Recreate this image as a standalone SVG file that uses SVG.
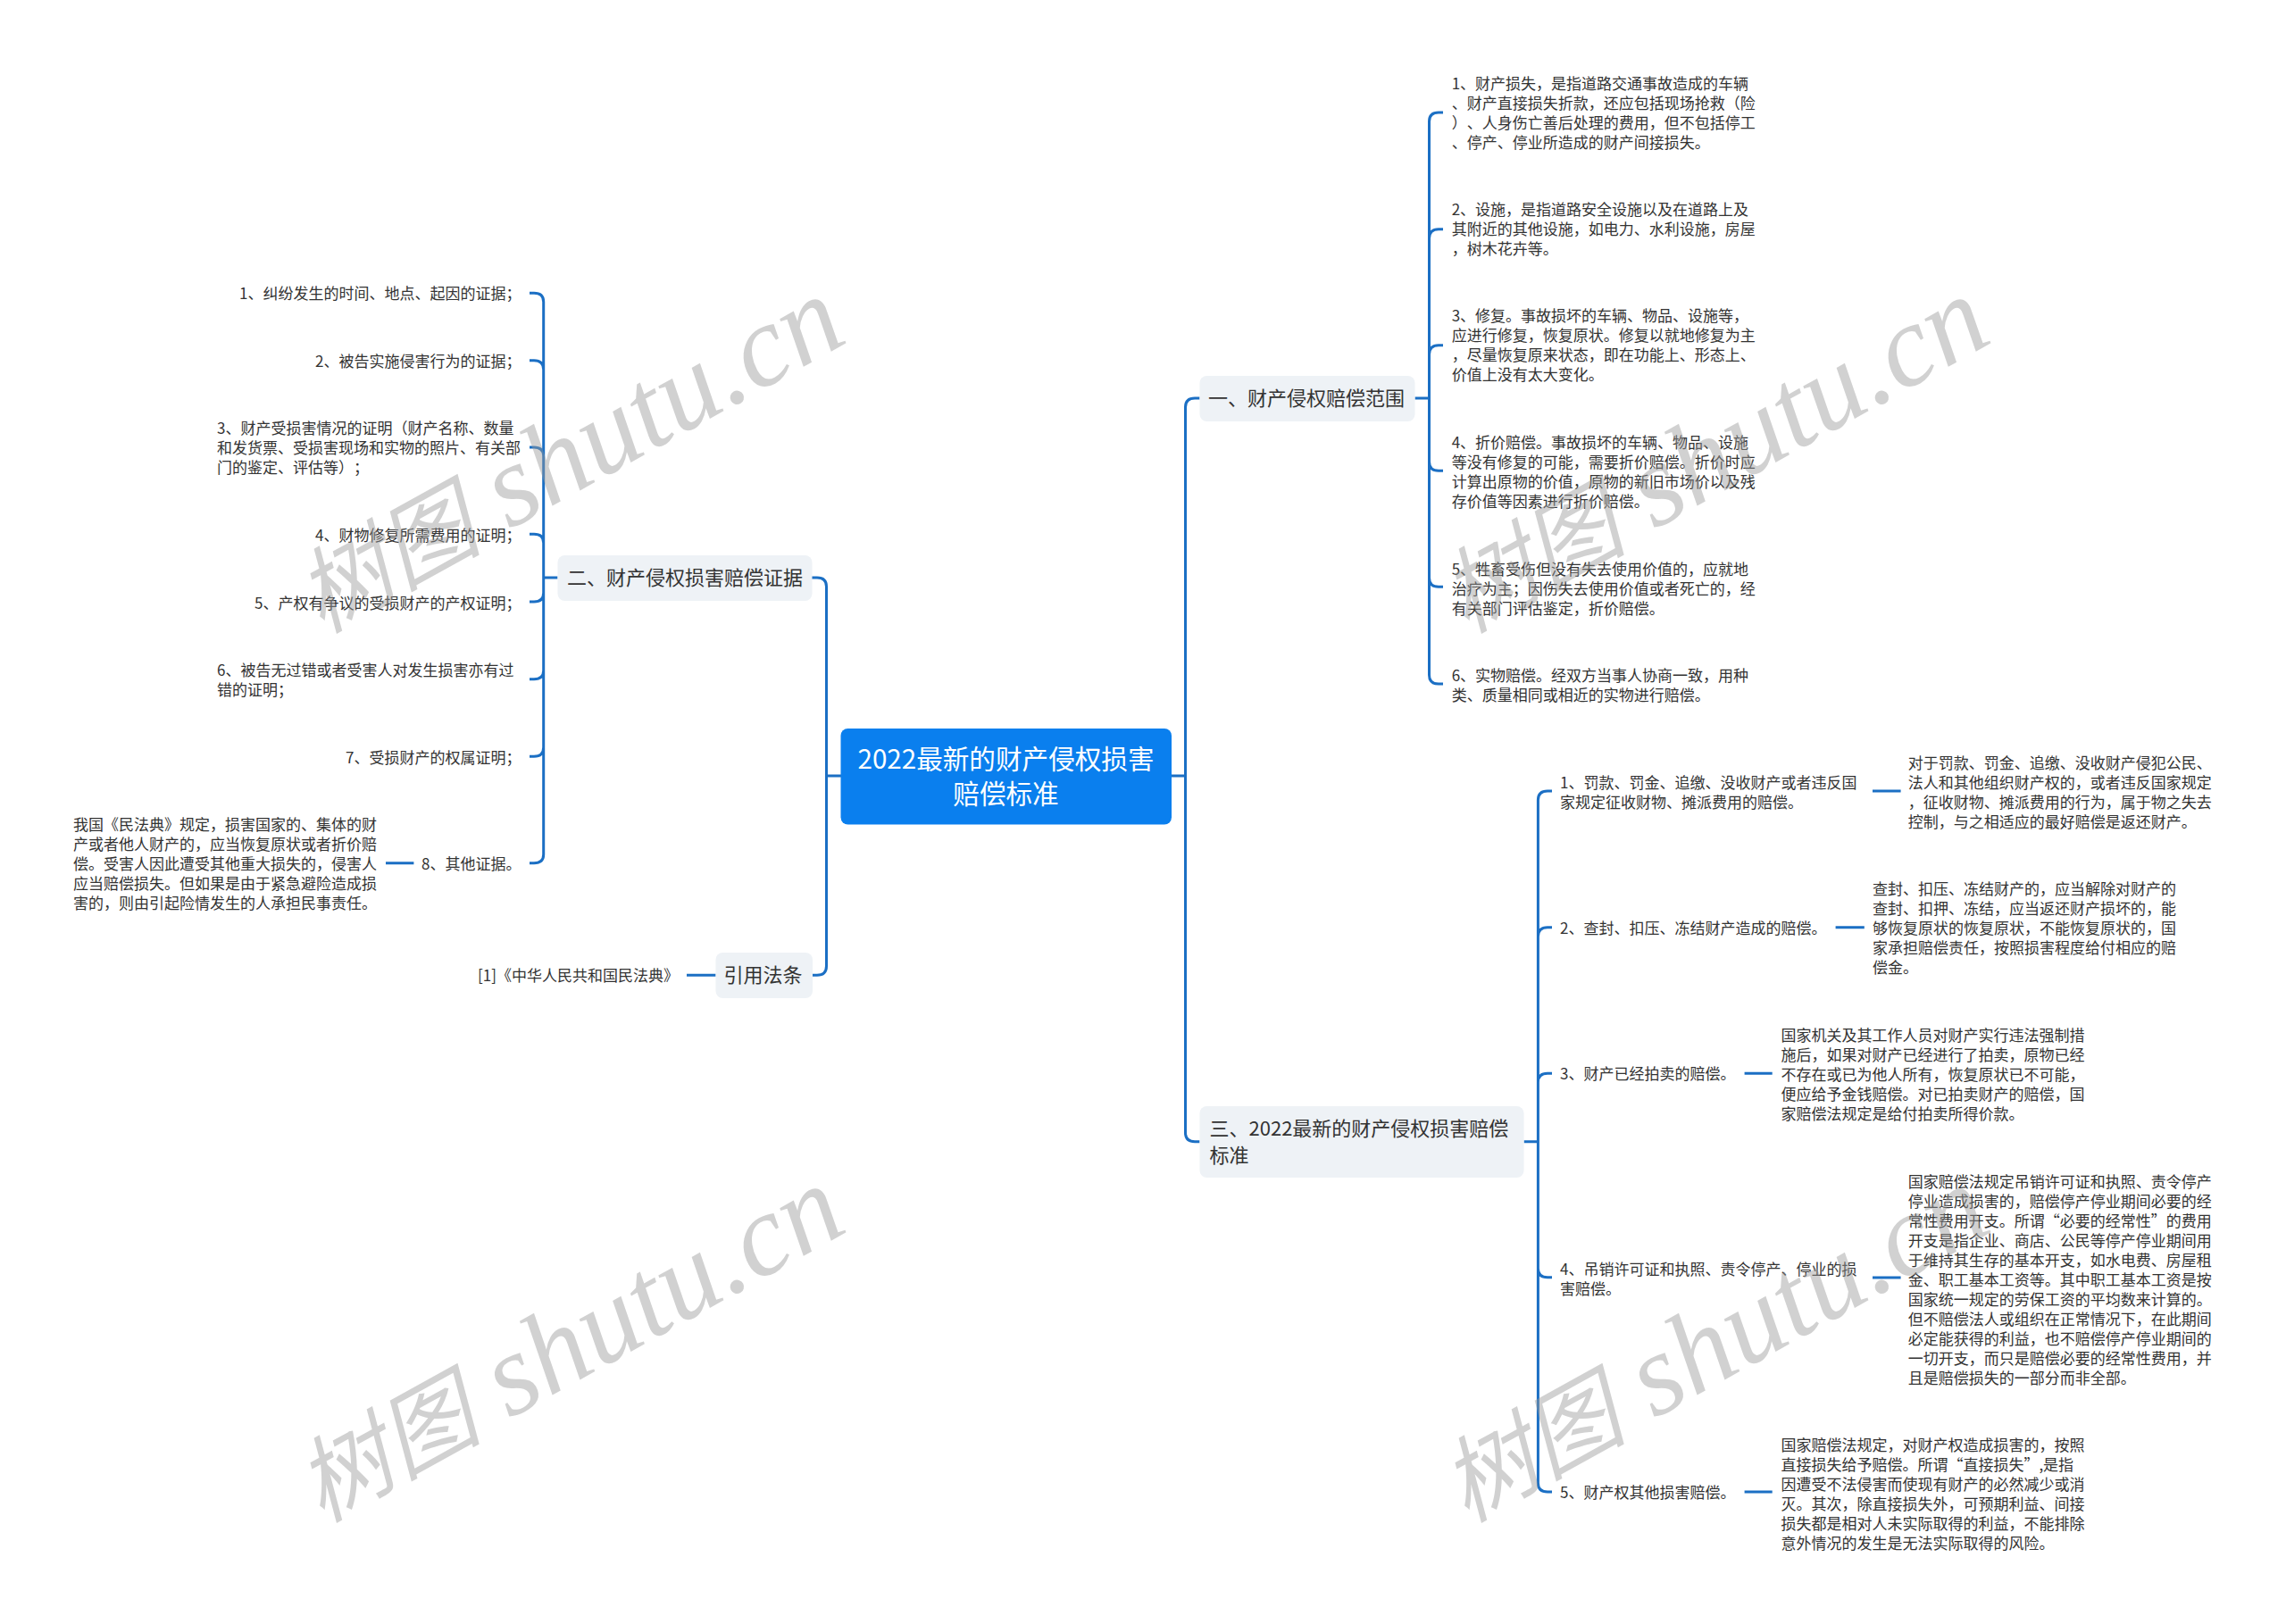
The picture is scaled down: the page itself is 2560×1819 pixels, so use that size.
<svg xmlns="http://www.w3.org/2000/svg" width="2560" height="1819" viewBox="0 0 2560 1819">
<defs>
<g id="wm"><text class="wm" x="0" y="0"><tspan class="wc">树图</tspan><tspan> shutu.cn</tspan></text></g>
</defs>
<style>
text{font-family:"Noto Sans CJK SC","Noto Sans",sans-serif;fill:#333;text-spacing-trim:space-all}
.s{font-size:17px}
.b{font-size:22px}
.r{font-size:29.600px;fill:#fff;text-anchor:middle}
.e{text-anchor:end}
.nb{fill:#eef2f6}
.c{fill:none;stroke:#1b6fc4;stroke-width:3;stroke-linecap:butt}
.wm{font-family:"Liberation Serif","Noto Sans CJK SC",serif;font-style:italic;font-size:130px;fill:#999;fill-opacity:.45}
.wc{font-size:104px}
</style>
<rect width="2560" height="1819" fill="#fff"/>
<g id="connectors">
<path class="c" d="M1312 869H1327.5M1343.5 446H1338Q1327.5 446 1327.5 456V1268.7Q1327.5 1278.7 1338 1278.7H1343.5"/>
<path class="c" d="M942 869H925.5M909 647H915Q925.5 647 925.5 657V1082Q925.5 1092.3 915 1092.3H910"/>
<path class="c" d="M1584.5 446H1600.5M1616 126H1611Q1600.5 126 1600.5 136V756Q1600.5 766 1611 766H1616M1616 256.7H1611Q1600.5 256.7 1600.5 267M1616 386.7H1611Q1600.5 386.7 1600.5 397M1616 527.3H1611Q1600.5 527.3 1600.5 517M1616 657.3H1611Q1600.5 657.3 1600.5 647"/>
<path class="c" d="M1706.6 1278.7H1722.4M1738 886H1733Q1722.4 886 1722.4 896V1661Q1722.4 1671 1733 1671H1738M1738 1038.7H1733Q1722.4 1038.7 1722.4 1049M1738 1202.3H1733Q1722.4 1202.3 1722.4 1212.3M1738 1430.7H1733Q1722.4 1430.7 1722.4 1420.7"/>
<path class="c" d="M2097 886H2128.6M2055.6 1038.7H2087.8M1953.6 1202.3H1984.7M2097 1431H2128.6M1953.6 1671H1984.7"/>
<path class="c" d="M624.5 647H608.7M593 328.3H598Q608.7 328.3 608.7 338V957Q608.7 966.7 598 966.7H593M593 403.7H598Q608.7 403.7 608.7 414M593 501H598Q608.7 501 608.7 511M593 598.3H598Q608.7 598.3 608.7 608M593 674H598Q608.7 674 608.7 664M593 760.7H598Q608.7 760.7 608.7 751M593 847.3H598Q608.7 847.3 608.7 837"/>
<path class="c" d="M432 966.7H463.4M769 1092.3H801.6"/>
</g>
<g id="root"><rect x="941.500" y="816" width="370.500" height="107.500" rx="8" fill="#0a7fee"/><text class="r" x="1126.500" y="861">2022最新的财产侵权损害</text><text class="r" x="1126.500" y="900">赔偿标准</text></g>
<g id="n1"><rect class="nb" x="1343.500" y="421" width="241" height="51" rx="8"/><text class="b" x="1353" y="454">一、财产侵权赔偿范围</text></g>
<g id="n2"><rect class="nb" x="624.500" y="622" width="285" height="51" rx="8"/><text class="b" x="635" y="655">二、财产侵权损害赔偿证据</text></g>
<g id="n3"><rect class="nb" x="1343.500" y="1239" width="363" height="80" rx="8"/><text class="b" x="1354.500" y="1272">三、2022最新的财产侵权损害赔偿</text><text class="b" x="1354.500" y="1302">标准</text></g>
<g id="n4"><rect class="nb" x="801.500" y="1067" width="108.500" height="51" rx="8"/><text class="b" x="810.500" y="1100">引用法条</text></g>
<g id="n1-items">
<text class="s" x="1625.700" y="100">1、财产损失，是指道路交通事故造成的车辆</text><text class="s" x="1625.700" y="122">、财产直接损失折款，还应包括现场抢救（险</text><text class="s" x="1625.700" y="144">）、人身伤亡善后处理的费用，但不包括停工</text><text class="s" x="1625.700" y="166">、停产、停业所造成的财产间接损失。</text>
<text class="s" x="1625.700" y="241">2、设施，是指道路安全设施以及在道路上及</text><text class="s" x="1625.700" y="263">其附近的其他设施，如电力、水利设施，房屋</text><text class="s" x="1625.700" y="285">，树木花卉等。</text>
<text class="s" x="1625.700" y="360">3、修复。事故损坏的车辆、物品、设施等，</text><text class="s" x="1625.700" y="382">应进行修复，恢复原状。修复以就地修复为主</text><text class="s" x="1625.700" y="404">，尽量恢复原来状态，即在功能上、形态上、</text><text class="s" x="1625.700" y="426">价值上没有太大变化。</text>
<text class="s" x="1625.700" y="502">4、折价赔偿。事故损坏的车辆、物品、设施</text><text class="s" x="1625.700" y="524">等没有修复的可能，需要折价赔偿。折价时应</text><text class="s" x="1625.700" y="546">计算出原物的价值，原物的新旧市场价以及残</text><text class="s" x="1625.700" y="568">存价值等因素进行折价赔偿。</text>
<text class="s" x="1625.700" y="644">5、牲畜受伤但没有失去使用价值的，应就地</text><text class="s" x="1625.700" y="666">治疗为主；因伤失去使用价值或者死亡的，经</text><text class="s" x="1625.700" y="688">有关部门评估鉴定，折价赔偿。</text>
<text class="s" x="1625.700" y="763">6、实物赔偿。经双方当事人协商一致，用种</text><text class="s" x="1625.700" y="785">类、质量相同或相近的实物进行赔偿。</text>
</g>
<g id="n3-items">
<text class="s" x="1747" y="883">1、罚款、罚金、追缴、没收财产或者违反国</text><text class="s" x="1747" y="905">家规定征收财物、摊派费用的赔偿。</text>
<text class="s" x="2136.700" y="860.500">对于罚款、罚金、追缴、没收财产侵犯公民、</text><text class="s" x="2136.700" y="882.500">法人和其他组织财产权的，或者违反国家规定</text><text class="s" x="2136.700" y="904.500">，征收财物、摊派费用的行为，属于物之失去</text><text class="s" x="2136.700" y="926.500">控制，与之相适应的最好赔偿是返还财产。</text>
<text class="s" x="1747" y="1045.500">2、查封、扣压、冻结财产造成的赔偿。</text>
<text class="s" x="2097" y="1002">查封、扣压、冻结财产的，应当解除对财产的</text><text class="s" x="2097" y="1024">查封、扣押、冻结，应当返还财产损坏的，能</text><text class="s" x="2097" y="1046">够恢复原状的恢复原状，不能恢复原状的，国</text><text class="s" x="2097" y="1068">家承担赔偿责任，按照损害程度给付相应的赔</text><text class="s" x="2097" y="1090">偿金。</text>
<text class="s" x="1747" y="1209">3、财产已经拍卖的赔偿。</text>
<text class="s" x="1994.400" y="1165.500">国家机关及其工作人员对财产实行违法强制措</text><text class="s" x="1994.400" y="1187.500">施后，如果对财产已经进行了拍卖，原物已经</text><text class="s" x="1994.400" y="1209.500">不存在或已为他人所有，恢复原状已不可能，</text><text class="s" x="1994.400" y="1231.500">便应给予金钱赔偿。对已拍卖财产的赔偿，国</text><text class="s" x="1994.400" y="1253.500">家赔偿法规定是给付拍卖所得价款。</text>
<text class="s" x="1747" y="1428">4、吊销许可证和执照、责令停产、停业的损</text><text class="s" x="1747" y="1450">害赔偿。</text>
<text class="s" x="2136.700" y="1329.500">国家赔偿法规定吊销许可证和执照、责令停产</text><text class="s" x="2136.700" y="1351.500">停业造成损害的，赔偿停产停业期间必要的经</text><text class="s" x="2136.700" y="1373.500">常性费用开支。所谓“必要的经常性”的费用</text><text class="s" x="2136.700" y="1395.500">开支是指企业、商店、公民等停产停业期间用</text><text class="s" x="2136.700" y="1417.500">于维持其生存的基本开支，如水电费、房屋租</text><text class="s" x="2136.700" y="1439.500">金、职工基本工资等。其中职工基本工资是按</text><text class="s" x="2136.700" y="1461.500">国家统一规定的劳保工资的平均数来计算的。</text><text class="s" x="2136.700" y="1483.500">但不赔偿法人或组织在正常情况下，在此期间</text><text class="s" x="2136.700" y="1505.500">必定能获得的利益，也不赔偿停产停业期间的</text><text class="s" x="2136.700" y="1527.500">一切开支，而只是赔偿必要的经常性费用，并</text><text class="s" x="2136.700" y="1549.500">且是赔偿损失的一部分而非全部。</text>
<text class="s" x="1747" y="1678">5、财产权其他损害赔偿。</text>
<text class="s" x="1994.400" y="1624.500">国家赔偿法规定，对财产权造成损害的，按照</text><text class="s" x="1994.400" y="1646.500">直接损失给予赔偿。所谓“直接损失”,是指</text><text class="s" x="1994.400" y="1668.500">因遭受不法侵害而使现有财产的必然减少或消</text><text class="s" x="1994.400" y="1690.500">灭。其次，除直接损失外，可预期利益、间接</text><text class="s" x="1994.400" y="1712.500">损失都是相对人未实际取得的利益，不能排除</text><text class="s" x="1994.400" y="1734.500">意外情况的发生是无法实际取得的风险。</text>
</g>
<g id="n2-items">
<text class="s e" x="583.500" y="335">1、纠纷发生的时间、地点、起因的证据；</text>
<text class="s e" x="583.500" y="410.500">2、被告实施侵害行为的证据；</text>
<text class="s" x="243" y="486">3、财产受损害情况的证明（财产名称、数量</text><text class="s" x="243" y="508">和发货票、受损害现场和实物的照片、有关部</text><text class="s" x="243" y="530">门的鉴定、评估等）；</text>
<text class="s e" x="583.500" y="605.500">4、财物修复所需费用的证明；</text>
<text class="s e" x="583.500" y="681.500">5、产权有争议的受损财产的产权证明；</text>
<text class="s" x="243" y="757">6、被告无过错或者受害人对发生损害亦有过</text><text class="s" x="243" y="779">错的证明；</text>
<text class="s e" x="583.500" y="854.500">7、受损财产的权属证明；</text>
<text class="s e" x="583.500" y="974">8、其他证据。</text>
<text class="s" x="82" y="930">我国《民法典》规定，损害国家的、集体的财</text><text class="s" x="82" y="952">产或者他人财产的，应当恢复原状或者折价赔</text><text class="s" x="82" y="974">偿。受害人因此遭受其他重大损失的，侵害人</text><text class="s" x="82" y="996">应当赔偿损失。但如果是由于紧急避险造成损</text><text class="s" x="82" y="1018">害的，则由引起险情发生的人承担民事责任。</text>
<text class="s" x="535" y="1099">[1]《中华人民共和国民法典》</text>
</g>
<g id="watermarks">
<use href="#wm" transform="translate(360 710) rotate(-29)"/>
<use href="#wm" transform="translate(1642 710) rotate(-29)"/>
<use href="#wm" transform="translate(360 1706) rotate(-29)"/>
<use href="#wm" transform="translate(1642 1706) rotate(-29)"/>
</g>
</svg>
